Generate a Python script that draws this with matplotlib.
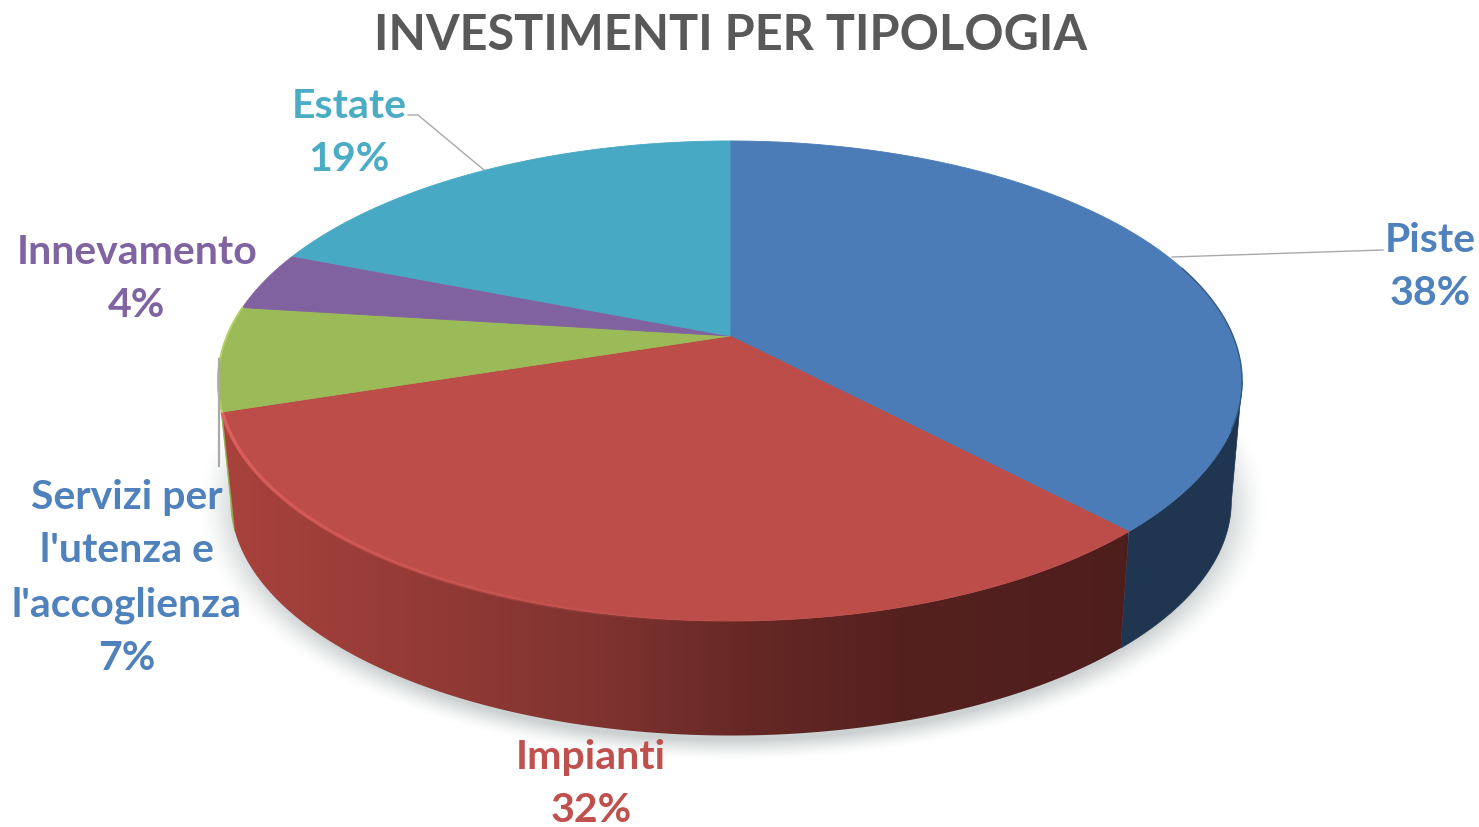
#---------------------INVESTIMENTI PER TIPOLOGIA - 3D PIE---------------------
import numpy as np
import matplotlib
matplotlib.use("Agg")
import matplotlib.pyplot as plt
from matplotlib.patches import Polygon
from matplotlib.collections import LineCollection
from matplotlib.colors import LinearSegmentedColormap

plt.rcParams['font.family'] = ['Lato', 'DejaVu Sans']

#Data, clockwise from 12 o'clock
labels = ["Piste", "Impianti", "Servizi per\nl'utenza e\nl'accoglienza", "Innevamento", "Estate"]
values = [38, 32, 7, 4, 19]
colors = ["#4b7cb8", "#bc4d49", "#9bba58", "#8162a0", "#48a9c4"]
text_colors = ["#4f81bd", "#c0504d", "#4f81bd", "#8064a2", "#4bacc6"]
label_pos = [(1430, 267), (591, 784), (127, 578), (137, 279), (349, 133)]

#Geometry of the tilted disc, in pixels
APEX = (730, 337)
A, B, P = 503.0, 231.6, 0.1875
ELL_C = (731, 382)     # centre of the visible top ellipse
SCALE_LOW = 0.977      # bottom rim is a bit smaller
LOW_C = (732, 502)


#Clockwise angle in degrees (0 = top) to a point on the top rim, with perspective
def rim(deg):
	t = np.radians(deg)
	u, v = np.sin(t), np.cos(t)
	w = 1 + P * v
	return APEX[0] + A * u / w, APEX[1] - B * v / w


#Same angle on the lower rim
def rim_low(deg):
	x, y = rim(deg)
	return LOW_C[0] + (x - ELL_C[0]) * SCALE_LOW, LOW_C[1] + (y - ELL_C[1]) * SCALE_LOW


fig = plt.figure(figsize=(14.79, 8.28), dpi=100)
ax = fig.add_axes([0, 0, 1, 1])
ax.set_xlim(0, 1479)
ax.set_ylim(828, 0)
ax.axis('off')

edges = np.cumsum([0] + values) * 3.6

#Soft shadow below the disc
yy, xx = np.mgrid[0:828, 0:1479]
r = np.sqrt(((xx - 732) / 507.0) ** 2 + ((yy - 507) / 241.0) ** 2)
fade = np.clip((1.055 - r) / 0.085, 0, 1) ** 1.5
shadow = np.zeros((828, 1479, 4))
shadow[..., :3] = 0.80, 0.82, 0.82
shadow[..., 3] = fade
ax.imshow(shadow, extent=(0, 1479, 828, 0), zorder=1, aspect='auto', interpolation='bilinear')

#Side walls, only the front part of the disc shows them
side_cmap = LinearSegmentedColormap.from_list("side", [
	(0.00, "#a9423d"), (0.20, "#963b36"), (0.42, "#7f3330"),
	(0.58, "#662825"), (0.75, "#55211f"), (1.00, "#4e1e1d")])
side_solid = {0: "#1f3550", 2: "#8fae4c"}
gradient = np.linspace(0, 1, 256).reshape(1, -1)

#start/stop angle of each wall, the sides of the disc hide the rest
wall_range = {0: (101, edges[1]), 1: (edges[1], edges[2]), 2: (edges[2], 259)}

for i in [0, 2, 1]:
	ang = np.linspace(wall_range[i][0], wall_range[i][1], 200)
	top = np.array([rim(a) for a in ang])
	low = np.array([rim_low(a) for a in ang])
	wall = np.vstack([top, low[::-1]])
	if i == 1:
		poly = Polygon(wall, closed=True, fc='none', ec='none', zorder=2)
		ax.add_patch(poly)
		im = ax.imshow(gradient, cmap=side_cmap, extent=(222, 1128, 828, 0), aspect='auto', zorder=2)
		im.set_clip_path(poly)
	else:
		ax.add_patch(Polygon(wall, closed=True, fc=side_solid[i], ec=side_solid[i], lw=0.5, zorder=2))

ax.set_xlim(0, 1479)
ax.set_ylim(828, 0)

#Top faces
for i in range(len(values)):
	ang = np.linspace(edges[i], edges[i + 1], 200)
	pts = np.array([APEX] + [rim(a) for a in ang])
	ax.add_patch(Polygon(pts, closed=True, fc=colors[i], ec=colors[i], lw=0.6, zorder=3))

#Light bevel on the red rim, fading out toward the right
ang = np.linspace(edges[2], edges[1], 300)
pts = np.array([rim(a) for a in ang])
segs = np.stack([pts[:-1], pts[1:]], axis=1)
alpha = np.clip(1 - np.linspace(0, 1, len(segs)) / 0.62, 0, 1)
rgba = np.zeros((len(segs), 4))
rgba[:, :3] = matplotlib.colors.to_rgb("#e4615f")
rgba[:, 3] = alpha
ax.add_collection(LineCollection(segs, colors=rgba, linewidths=2.6, zorder=4))

#Dark thin edge on the blue rim, light one on the green
ang = np.linspace(72, 112, 100)
pts = np.array([rim(a) for a in ang])
ax.plot(pts[:, 0], pts[:, 1], color="#2d4f78", lw=1.0, alpha=0.8, zorder=4)
ang = np.linspace(edges[2], edges[3], 60)
pts = np.array([rim(a) for a in ang])
ax.plot(pts[:, 0], pts[:, 1], color="#b4d062", lw=1.4, zorder=4)

#Leader lines
lead = "#a9a9a9"
ax.plot([408, 418, 484], [116, 116, 171], color=lead, lw=1, zorder=5)
ax.plot([1383, 1172], [251, 258], color=lead, lw=1, zorder=5)
ax.plot([219, 219], [360, 467], color=lead, lw=1.6, zorder=5)

#Labels
for i in range(len(labels)):
	txt = labels[i] + "\n" + str(values[i]) + "%"
	ax.text(label_pos[i][0], label_pos[i][1], txt, color=text_colors[i], fontsize=29.5,
			fontweight='bold', ha='center', va='center', linespacing=1.56, zorder=6)

ax.text(731, 36, "INVESTIMENTI PER TIPOLOGIA", color="#595959", fontsize=35,
		fontweight='bold', ha='center', va='center', zorder=6)

fig.savefig("out.png", dpi=100, facecolor='white')
